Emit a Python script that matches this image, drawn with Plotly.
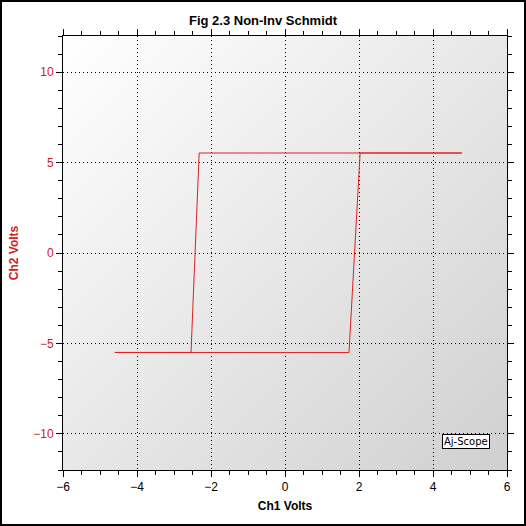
import plotly.graph_objects as go

# hysteresis loop vertices (Ch1, Ch2)
ch1 = [-4.6, 1.73, 2.03, 4.78, -2.32, -2.54, -4.6]
ch2 = [-5.5, -5.5, 5.53, 5.53, 5.53, -5.5, -5.5]

x_ticks = [-6, -4, -2, 0, 2, 4, 6]
y_ticks = [-10, -5, 0, 5, 10]

grad = ("data:image/svg+xml;utf8,<svg xmlns='http://www.w3.org/2000/svg' width='100' height='100'>"
        "<defs><linearGradient id='g' x1='0' y1='0' x2='1' y2='1'>"
        "<stop offset='0' stop-color='%23ffffff'/><stop offset='1' stop-color='%23d0d0d0'/>"
        "</linearGradient></defs><rect width='100' height='100' fill='url(%23g)'/></svg>")

fig = go.Figure()
fig.add_trace(go.Scatter(x=ch1, y=ch2, mode='lines',
                         line=dict(color='#e02020', width=1), showlegend=False))

fig.add_layout_image(dict(source=grad, xref='paper', yref='paper', x=0, y=1,
                          sizex=1, sizey=1, sizing='stretch', layer='below'))

fig.add_annotation(text='Aj-Scope', xref='x', yref='y', x=4.9, y=-10.45,
                   showarrow=False, font=dict(family='DejaVu Sans', size=10, color='black'),
                   bgcolor='white', bordercolor='black', borderwidth=1, borderpad=1)

fig.update_layout(
    width=526, height=526,
    margin=dict(l=63, r=19, t=36, b=56),
    paper_bgcolor='white', plot_bgcolor='rgba(0,0,0,0)',
    title=dict(text='<b>Fig 2.3 Non-Inv Schmidt</b>', x=0.5, y=0.97, xanchor='center',
               font=dict(family='Arial', size=13, color='black')),
    xaxis=dict(range=[-6, 6], tickvals=x_ticks, showline=True, linecolor='black', mirror='ticks',
               ticks='outside', ticklen=6, tickcolor='black',
               minor=dict(dtick=0.5, ticks='outside', ticklen=4, tickcolor='black'),
               showgrid=True, gridcolor='black', griddash='1px,3px', gridwidth=1, zeroline=False,
               tickfont=dict(family='Arial', size=12, color='black'),
               title=dict(text='<b>Ch1 Volts</b>', font=dict(family='Arial', size=12, color='black'), standoff=8)),
    yaxis=dict(range=[-12, 12], tickvals=y_ticks, showline=True, linecolor='black', mirror='ticks',
               ticks='outside', ticklen=6, tickcolor='black',
               minor=dict(dtick=1, ticks='outside', ticklen=4, tickcolor='black'),
               showgrid=True, gridcolor='black', griddash='1px,3px', gridwidth=1, zeroline=False,
               tickfont=dict(family='Arial', size=12, color='#d02020'),
               title=dict(text='<b>Ch2 Volts</b>', font=dict(family='Arial', size=12, color='#d02020'), standoff=12)),
)
fig.add_shape(type='rect', xref='paper', yref='paper', x0=-62/444, x1=1+18/444,
              y0=-55/434, y1=1+35/434, line=dict(color='black', width=2))

fig.write_html("out.html", config={'displayModeBar': False},
               post_script="document.body.style.margin='0';")
